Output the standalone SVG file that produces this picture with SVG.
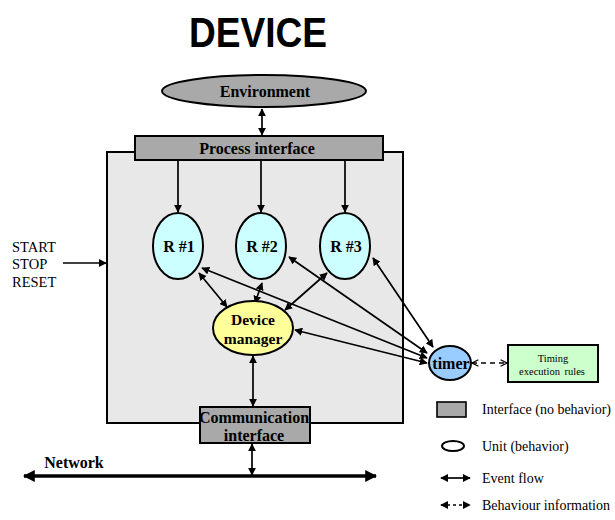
<svg xmlns="http://www.w3.org/2000/svg" width="615" height="520" viewBox="0 0 615 520">
<defs>
<marker id="ah" viewBox="0 0 10 10" refX="9" refY="5" markerWidth="8" markerHeight="8" orient="auto-start-reverse" markerUnits="userSpaceOnUse"><path d="M0,0 L10,5 L0,10 z" fill="#000"/></marker>
<marker id="ahb" viewBox="0 0 10 10" refX="9" refY="5" markerWidth="12" markerHeight="12" orient="auto-start-reverse" markerUnits="userSpaceOnUse"><path d="M0,0 L10,5 L0,10 z" fill="#000"/></marker>
<marker id="chev" viewBox="0 0 10 10" refX="9" refY="5" markerWidth="8" markerHeight="8" orient="auto-start-reverse" markerUnits="userSpaceOnUse"><path d="M1,1 L9,5 L1,9" fill="none" stroke="#000" stroke-width="1.6"/></marker>
</defs>
<style>
.sb{font-family:"Liberation Serif",serif;font-weight:bold;text-anchor:middle;fill:#000}
.s{font-family:"Liberation Serif",serif;fill:#000}
.ln{stroke:#000;stroke-width:1.7;fill:none;marker-start:url(#ah);marker-end:url(#ah)}
.iface{fill:#a9a9a9;stroke:#000;stroke-width:2}
.unit{fill:#ccffff;stroke:#000;stroke-width:2}
</style>
<rect width="615" height="520" fill="#fff"/>
<text x="258" y="47" font-family="Liberation Sans,Arial,sans-serif" font-weight="bold" font-size="42" text-anchor="middle" textLength="138" lengthAdjust="spacingAndGlyphs">DEVICE</text>

<g id="device-box"><rect x="107" y="152" width="296" height="271" fill="#e8e8e8" stroke="#000" stroke-width="2"/></g>

<g id="connectors">
<line class="ln" x1="262" y1="109" x2="262" y2="135"/>
<line class="ln" x1="178" y1="161" x2="178" y2="212" style="marker-start:none"/>
<line class="ln" x1="261" y1="161" x2="261" y2="212" style="marker-start:none"/>
<line class="ln" x1="345" y1="161" x2="345" y2="212" style="marker-start:none"/>
<line class="ln" x1="63" y1="263" x2="106" y2="263" style="marker-start:none"/>
<line class="ln" x1="199" y1="273" x2="227" y2="307"/>
<line class="ln" x1="262" y1="283" x2="255" y2="303"/>
<line class="ln" x1="327" y1="273" x2="285" y2="310"/>
<line class="ln" x1="202" y1="268" x2="427" y2="358"/>
<line class="ln" x1="289" y1="257" x2="427" y2="353"/>
<line class="ln" x1="373" y1="258" x2="433" y2="347"/>
<line class="ln" x1="295" y1="330" x2="427" y2="363"/>
<line class="ln" x1="253" y1="356" x2="253" y2="406"/>
<line class="ln" x1="252" y1="444" x2="252" y2="475"/>
<line x1="24" y1="476" x2="376" y2="476" stroke="#000" stroke-width="3.5" marker-start="url(#ahb)" marker-end="url(#ahb)"/>
<line x1="472" y1="363" x2="507" y2="363" stroke="#000" stroke-width="1.3" stroke-dasharray="5,4" marker-start="url(#chev)" marker-end="url(#chev)"/>
</g>

<g id="environment"><ellipse cx="264" cy="91" rx="102" ry="16" fill="#a9a9a9" stroke="#000" stroke-width="2"/><text class="sb" x="265" y="97" font-size="16">Environment</text></g>
<g id="process-interface"><rect class="iface" x="135" y="136" width="248" height="24"/><text class="sb" x="257" y="154" font-size="16">Process interface</text></g>
<g id="r1"><ellipse class="unit" cx="178" cy="246" rx="25" ry="33"/><text class="sb" x="179" y="252" font-size="16">R #1</text></g>
<g id="r2"><ellipse class="unit" cx="261" cy="246" rx="25" ry="33"/><text class="sb" x="262" y="252" font-size="16">R #2</text></g>
<g id="r3"><ellipse class="unit" cx="345" cy="246" rx="25" ry="33"/><text class="sb" x="346" y="252" font-size="16">R #3</text></g>
<g id="start-stop-reset"><text class="s" x="12" y="252" font-size="14.5">START</text><text class="s" x="12" y="269" font-size="14.5">STOP</text><text class="s" x="12" y="287" font-size="14.5">RESET</text></g>
<g id="device-manager"><ellipse cx="253" cy="328" rx="40" ry="27" fill="#ffff99" stroke="#000" stroke-width="2"/><text class="sb" x="253" y="325" font-size="15.5">Device</text><text class="sb" x="253" y="344" font-size="15.5">manager</text></g>
<g id="timer"><ellipse cx="450" cy="363" rx="21" ry="17" fill="#99ccff" stroke="#000" stroke-width="2"/><text class="sb" x="451" y="369" font-size="16">timer</text></g>
<g id="timing-rules"><rect x="508" y="345" width="90" height="37" fill="#ccffcc" stroke="#000" stroke-width="2"/><text class="s" x="553" y="362" font-size="10.5" text-anchor="middle">Timing</text><text class="s" x="552" y="375" font-size="10.5" text-anchor="middle" word-spacing="2">execution rules</text></g>
<g id="communication-interface"><rect class="iface" x="200" y="407" width="110" height="36"/><text class="sb" x="254" y="423" font-size="16">Communication</text><text class="sb" x="254" y="441" font-size="16">interface</text></g>
<g id="network"><text class="sb" x="74" y="468" font-size="16">Network</text></g>

<g id="legend">
<rect x="437" y="402" width="29" height="15" fill="#a9a9a9" stroke="#000" stroke-width="1.6"/>
<text class="s" x="482" y="414" font-size="14">Interface (no behavior)</text>
<ellipse cx="453" cy="446" rx="11" ry="5" fill="#fff" stroke="#000" stroke-width="2"/>
<text class="s" x="482" y="451" font-size="14">Unit (behavior)</text>
<line x1="441" y1="478" x2="470" y2="478" stroke="#000" stroke-width="1.7" marker-start="url(#ah)" marker-end="url(#ah)"/>
<text class="s" x="482" y="483" font-size="14">Event flow</text>
<line x1="441" y1="505" x2="470" y2="505" stroke="#000" stroke-width="1.7" stroke-dasharray="3,3" marker-start="url(#ah)" marker-end="url(#ah)"/>
<text class="s" x="482" y="510" font-size="14" textLength="128" lengthAdjust="spacingAndGlyphs">Behaviour information</text>
</g>
</svg>
